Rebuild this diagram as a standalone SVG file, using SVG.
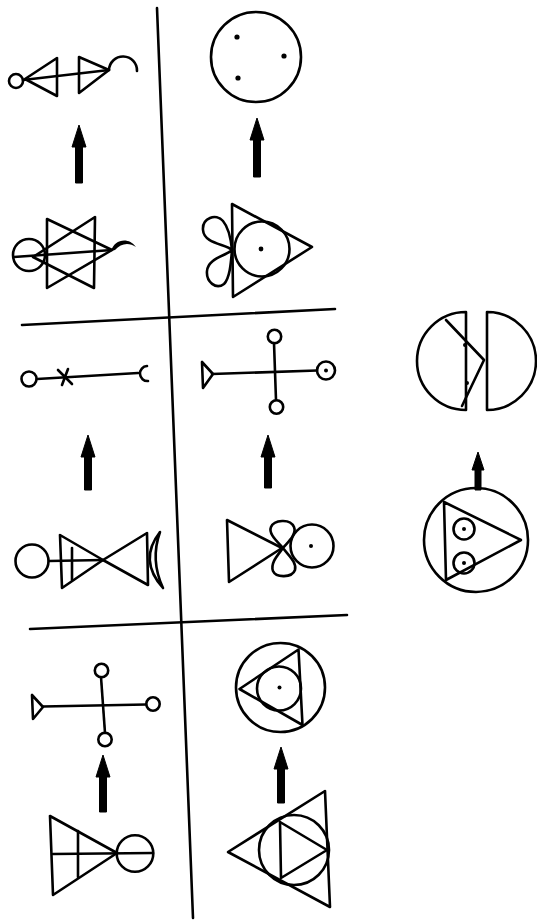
<svg xmlns="http://www.w3.org/2000/svg" width="537" height="920" viewBox="0 0 537 920">
<style>
.s{fill:none;stroke:#000;stroke-width:2.6;stroke-linejoin:round;stroke-linecap:round}
.f{fill:#000;stroke:none}
.ar{fill:#000;stroke:#000;stroke-width:1}
</style>
<rect width="537" height="920" fill="#fff"/>
<g id="dividers">
<path class="s" d="M157,8 L193,918"/>
<path class="s" d="M22,325 L335,309"/>
<path class="s" d="M30,629 L347,615"/>
</g>
<g id="sym1">
<circle class="s" cx="16" cy="81" r="7"/>
<path class="s" d="M25,79 L57,58 L57,96 Z"/>
<path class="s" d="M79,57 L79,93 L109,70 Z"/>
<path class="s" d="M23,80 L109,70"/>
<path class="s" d="M109,70 A13.5,13.5 0 0 1 137,71"/>
</g>
<g id="sym2">
<circle class="s" cx="256" cy="57" r="45"/>
<circle class="f" cx="237" cy="37" r="2.6"/>
<circle class="f" cx="284" cy="56" r="2.6"/>
<circle class="f" cx="238" cy="78" r="2.6"/>
</g>
<g id="sym3">
<circle class="s" cx="29" cy="255" r="16"/>
<path class="s" d="M47,219 L47,288 L112,250 Z"/>
<path class="s" d="M95,217 L94,288 L33,257 Z"/>
<path class="s" d="M14,257 L112,250"/>
<path class="f" d="M111,251 C114,240 128,236 136,247 C129,242 121,243 115,250 Z"/>
</g>
<g id="sym4">
<path class="s" d="M232,204 L233,297 L312,247 Z"/>
<circle class="s" cx="262" cy="249" r="27.5"/>
<circle class="f" cx="261" cy="249" r="2.4"/>
<path class="s" d="M232,250 C226,244 204,244 203,230 C202,218 216,213 223,221 C229,228 231,240 232,250 C231,262 230,278 224,284 C216,290 206,282 207,271 C208,258 226,256 232,250"/>
</g>
<g id="sym5">
<circle class="s" cx="29" cy="379" r="7.5"/>
<path class="s" d="M37,379 L138,373"/>
<path class="s" d="M58,370 L72,384 M68,369 L62,385"/>
<path class="s" d="M147,366 A7.5,7.5 0 0 0 148,381"/>
</g>
<g id="sym6">
<path class="s" d="M212,374 L317,370.5"/>
<path class="s" d="M274,343 L276,400"/>
<circle class="s" cx="274.5" cy="336.5" r="6.7"/>
<circle class="s" cx="276.5" cy="407" r="6.7"/>
<circle class="s" cx="326" cy="370.5" r="9"/>
<circle class="f" cx="326" cy="370.5" r="2"/>
<path class="s" d="M202,362 L203,388 L213,374 Z"/>
</g>
<g id="sym7">
<circle class="s" cx="32" cy="561" r="16.5"/>
<path class="s" d="M49,561 L103,560"/>
<path class="s" d="M60,535 L62,588 L103,560 Z"/>
<path class="s" d="M72,548 L72,580"/>
<path class="s" d="M103,560 L147,533 L148,585 Z"/>
<path class="s" d="M160,532 Q138,560 163,588 Q150,560 160,532 Z"/>
</g>
<g id="sym8">
<path class="s" d="M227,520 L229,582 L282,548 Z"/>
<path class="s" d="M283,548 C278,542 268,534 271,527 C274,520 290,518 294,527 C297,534 288,542 283,548 C278,555 270,563 273,571 C276,578 292,578 295,570 C297,562 288,555 283,548"/>
<circle class="s" cx="312" cy="546" r="21.5"/>
<circle class="f" cx="311" cy="546" r="2"/>
</g>
<g id="sym9">
<path class="s" d="M43,706.5 L146,704.5"/>
<path class="s" d="M101,677 L105,733"/>
<circle class="s" cx="101.5" cy="670.5" r="6.7"/>
<circle class="s" cx="105" cy="739.5" r="6.7"/>
<circle class="s" cx="153" cy="704" r="6.7"/>
<path class="s" d="M32,695 L33,719 L43,707 Z"/>
</g>
<g id="sym10">
<path class="s" d="M50,816 L53,895 L117,853 Z"/>
<path class="s" d="M53,854 L153,853"/>
<path class="s" d="M78,831 L78,877"/>
<circle class="s" cx="135" cy="853.5" r="18.3"/>
</g>
<g id="sym11">
<circle class="s" cx="280.5" cy="687.5" r="44.5"/>
<path class="s" d="M239.5,689 L298.5,649.5 L302.5,725 Z"/>
<circle class="s" cx="279" cy="688.5" r="22"/>
<circle class="f" cx="279.5" cy="687.5" r="2"/>
</g>
<g id="sym12">
<path class="s" d="M228,852 L325,791 L330,907 Z"/>
<circle class="s" cx="294" cy="850" r="35"/>
<path class="s" d="M280,822 L281,878 L327,850 Z"/>
</g>
<g id="sym13">
<path class="s" d="M466,312 A49,49 0 0 0 466,410 Z"/>
<path class="s" d="M446,320 L484,360 L462,406"/>
<circle class="f" cx="465" cy="345" r="2"/>
<circle class="f" cx="467" cy="383" r="2"/>
<path class="s" d="M487,312 A49,49 0 0 1 487,410 Z"/>
</g>
<g id="sym14">
<circle class="s" cx="476" cy="540" r="52"/>
<path class="s" d="M444,502 L446,580 L521,540 Z"/>
<circle class="s" cx="464" cy="529" r="10.5"/>
<circle class="s" cx="464" cy="563" r="10.5"/>
<circle class="f" cx="464" cy="529" r="2"/>
<circle class="f" cx="464" cy="563" r="2"/>
</g>
<g id="connectors">
<path class="ar" d="M79,125 L86,147 L82.5,147 L82.5,183 L75.5,183 L75.5,147 L72,147 Z"/>
<path class="ar" d="M257,118 L264,140 L260.5,140 L260.5,177 L253.5,177 L253.5,140 L250,140 Z"/>
<path class="ar" d="M88,435 L95,457 L91.5,457 L91.5,490 L84.5,490 L84.5,457 L81,457 Z"/>
<path class="ar" d="M268,435 L275,457 L271.5,457 L271.5,488 L264.5,488 L264.5,457 L261,457 Z"/>
<path class="ar" d="M103,755 L110,777 L106.5,777 L106.5,812 L99.5,812 L99.5,777 L96,777 Z"/>
<path class="ar" d="M281,747 L288,769 L284.5,769 L284.5,803 L277.5,803 L277.5,769 L274,769 Z"/>
<path class="ar" d="M478,452 L484,470 L481,470 L481,490 L475,490 L475,470 L472,470 Z"/>
</g>
</svg>
